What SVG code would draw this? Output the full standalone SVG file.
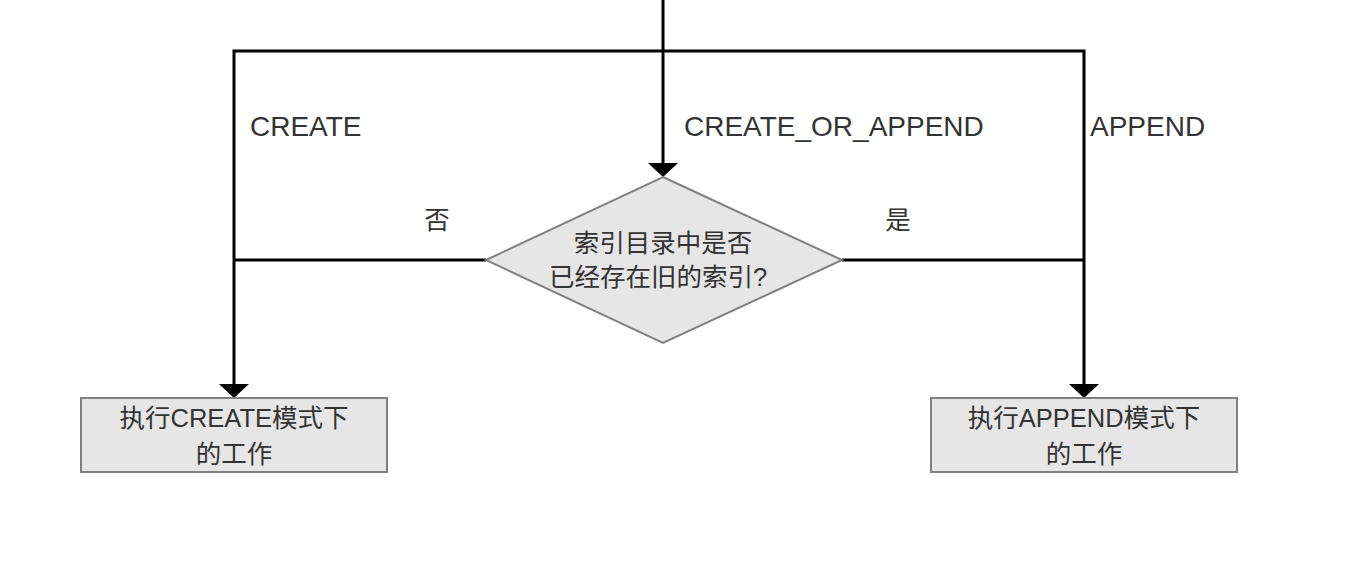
<svg xmlns="http://www.w3.org/2000/svg" width="1372" height="572" viewBox="0 0 1372 572">
<style>
text{font-family:"Liberation Sans","Noto Sans CJK SC",sans-serif;fill:#333333}
.lbl{font-size:28px}
.cj{font-size:25.5px}
.node{fill:#e6e6e6;stroke:#808080;stroke-width:2}
.edge{fill:none;stroke:#000;stroke-width:3}
</style>
<defs>
<marker id="ah" viewBox="0 0 14 30" refX="4" refY="15" markerWidth="14" markerHeight="30" markerUnits="userSpaceOnUse" orient="auto">
<path d="M0,0 L14,15 L0,30 Z" fill="#000"/>
</marker>
</defs>
<rect width="1372" height="572" fill="#fff"/>
<g id="connectors">
<path class="edge" d="M663,0 V167" marker-end="url(#ah)"/>
<path class="edge" d="M663,51 H234 V388" marker-end="url(#ah)"/>
<path class="edge" d="M663,51 H1084 V388" marker-end="url(#ah)"/>
<path class="edge" d="M486,260 H234"/>
<path class="edge" d="M842,260 H1084"/>
<text class="lbl" x="250" y="136">CREATE</text>
<text class="lbl" x="684" y="136">CREATE_OR_APPEND</text>
<text class="lbl" x="1090" y="136">APPEND</text>
<text class="cj" x="437" y="229" text-anchor="middle">否</text>
<text class="cj" x="898" y="229" text-anchor="middle">是</text>
</g>
<g id="decision">
<polygon class="node" points="663,177 842,260 663,343 486,260"/>
<text class="cj" x="663" y="252" text-anchor="middle">索引目录中是否</text>
<text class="cj" x="658" y="286" text-anchor="middle">已经存在旧的索引?</text>
</g>
<g id="create">
<rect class="node" x="81" y="398" width="306" height="74"/>
<text class="cj" x="234" y="427" text-anchor="middle">执行CREATE模式下</text>
<text class="cj" x="234" y="463" text-anchor="middle">的工作</text>
</g>
<g id="append">
<rect class="node" x="931" y="398" width="306" height="74"/>
<text class="cj" x="1084" y="427" text-anchor="middle">执行APPEND模式下</text>
<text class="cj" x="1084" y="463" text-anchor="middle">的工作</text>
</g>
</svg>
